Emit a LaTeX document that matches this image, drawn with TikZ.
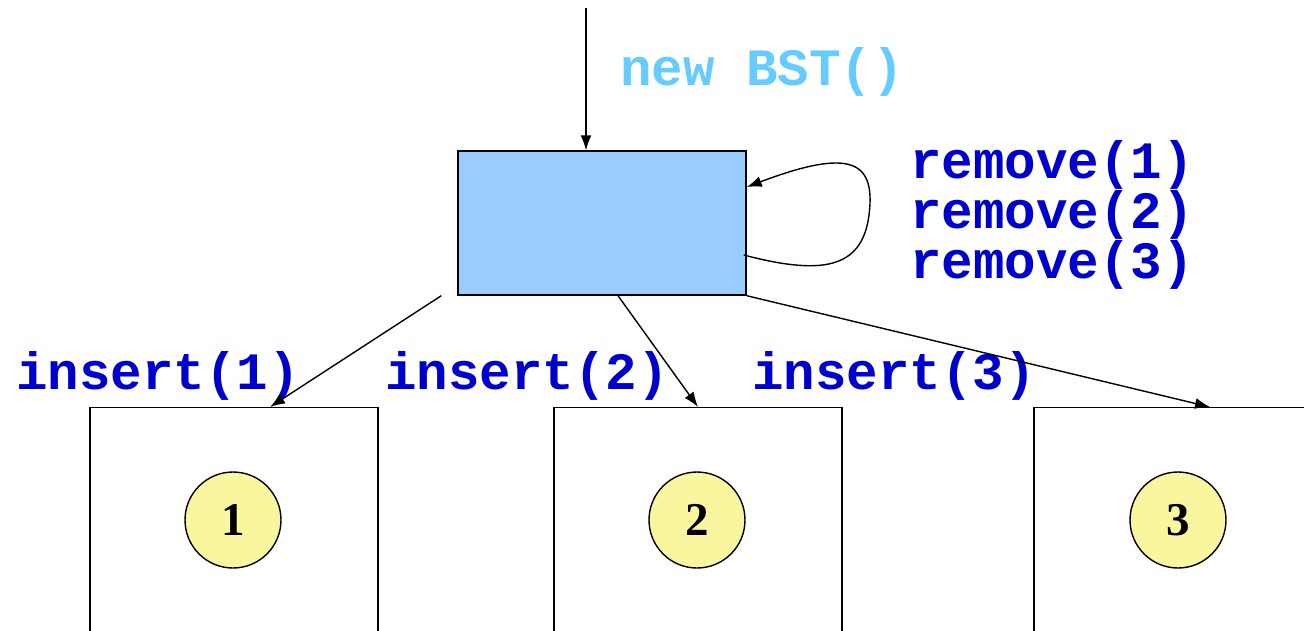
\documentclass[tikz,border=0pt]{standalone}
\usepackage{fontspec}
\setmainfont{Liberation Serif}
\setmonofont{Liberation Mono}
\usetikzlibrary{arrows.meta}
\definecolor{bstfill}{HTML}{99CCFF}
\definecolor{ballfill}{HTML}{FAF6A0}
\definecolor{opblue}{HTML}{0000CC}
\definecolor{newblue}{HTML}{66CCFF}
\tikzset{
  conn/.style={line width=1.4pt,-{Latex[length=15pt,width=11pt]}},
  state/.style={draw,line width=1.4pt,minimum width=288pt,minimum height=300pt,anchor=north,inner sep=0pt},
  ball/.style={circle,draw,line width=1.4pt,fill=ballfill,minimum size=96pt,inner sep=0pt,font=\fontsize{47}{47}\selectfont\bfseries},
  op/.style={anchor=base west,inner sep=0pt,text=opblue,font=\fontsize{52.5}{46.5}\selectfont\ttfamily\bfseries},
}
\begin{document}
\begin{tikzpicture}[x=1pt,y=-1pt]
\clip (0,0) rectangle (1304,630);
\fill[white] (0,0) rectangle (1304,630);
\coordinate (start) at (586,8);
\node[draw,line width=1.4pt,fill=bstfill,minimum width=288pt,minimum height=144pt,inner sep=0pt] (bst) at (602,223) {};
\node[op,text=newblue] (newlbl) at (620,85) {new BST()};
\node[op,align=left] (rm) at (910,278) {remove(1)\\remove(2)\\remove(3)};
\node[op] (ins1) at (16,389) {insert(1)};
\node[op] (ins2) at (385,389) {insert(2)};
\node[op] (ins3) at (752,389) {insert(3)};
\node[state] (s1) at (234,407) {};
\node[state] (s2) at (698,407) {};
\node[state] (s3) at (1178,407) {};
\node[ball] (b1) at (233,520) {1};
\node[ball] (b2) at (697,520) {2};
\node[ball] (b3) at (1178,520) {3};
\draw[conn] (start) -- (bst.north -| start);
\draw[conn] ([xshift=-16pt]bst.south west) -- ([xshift=36pt]s1.north);
\draw[conn] ([xshift=16pt]bst.south) -- (s2.north);
\draw[conn] (bst.south east) -- ([xshift=32pt]s3.north);
\draw[conn] ([xshift=-3pt,yshift=-32pt]bst.east) .. controls (820,275) and (862,270) .. (869,215)
  .. controls (876,160) and (850,148) .. ([yshift=36pt]bst.east);
\end{tikzpicture}
\end{document}
